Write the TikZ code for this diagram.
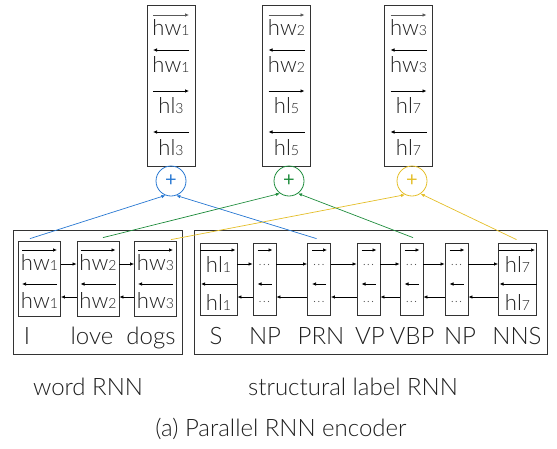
\documentclass[tikz,border=0pt]{standalone}
\usepackage{fontspec}
\setmainfont{Lato Light}
\newfontfamily\plusfont{Lato}
\usetikzlibrary{arrows.meta,calc}
\definecolor{cblue}{RGB}{40,120,210}
\definecolor{cgreen}{RGB}{30,140,60}
\definecolor{cyellow}{RGB}{228,190,40}
\definecolor{ink}{RGB}{30,30,30}
\newcommand\sbx[1]{{\fontsize{14}{14}\selectfont #1}}
\newcommand\dts{{\fontsize{13}{13}\selectfont\color{black!70}.\kern1.2pt.\kern1.2pt.}}
\begin{document}
\begin{tikzpicture}[x=1pt,y=-1pt,
  frame/.style={draw=black!80,line width=0.8pt,inner sep=0pt},
  tip/.style={-{Latex[length=4pt,width=3.5pt]},line width=0.7pt},
  lab/.style={font=\fontsize{24}{24}\selectfont,anchor=base,inner sep=0pt,text=ink},
  hv/.style={font=\fontsize{22}{22}\selectfont,anchor=base,inner sep=0pt,text=ink},
  dotn/.style={inner sep=0pt,anchor=center},
  plus/.style={circle,line width=0.8pt,minimum size=30pt,inner sep=0pt,font=\plusfont\fontsize{20}{20}\selectfont}]
\useasboundingbox (0,0) rectangle (557,448);

% top output boxes
\foreach \bx/\cx/\a/\b in {TA/171/1/3, TB/286.5/2/5, TC/408.5/3/7}{
  \node[frame,minimum width=48pt,minimum height=161pt] (\bx) at (\cx,85.5) {};
  \draw[tip,black!65] ({\cx-18},15) -- ({\cx+18},15);
  \draw[tip] ({\cx+18},50) -- ({\cx-18},50);
  \draw[tip] ({\cx-18},91) -- ({\cx+18},91);
  \draw[tip] ({\cx+18},132) -- ({\cx-18},132);
  \node[hv] (\bx r1) at (\cx,35) {hw\sbx{\a}};
  \node[hv] (\bx r2) at (\cx,72) {hw\sbx{\a}};
  \node[hv] (\bx r3) at (\cx,113) {hl\sbx{\b}};
  \node[hv] (\bx r4) at (\cx,155) {hl\sbx{\b}};
}

% plus circles
\node[plus,draw=cblue,text=cblue] (P1) at (171,181) {+};
\node[plus,draw=cgreen,text=cgreen] (P2) at (289,181) {+};
\node[plus,draw=cyellow,text=cyellow] (P3) at (412,181) {+};

% big frames
\node[frame,minimum width=169pt,minimum height=124pt] (W) at (97.5,292) {};
\node[frame,minimum width=353pt,minimum height=124pt] (S) at (370.5,292) {};

% word RNN boxes
\foreach \n/\cx/\i in {hwA/39.5/1, hwB/98/2, hwC/155.5/3}{
  \node[frame,minimum width=42pt,minimum height=75pt] (\n) at (\cx,278.5) {};
  \draw[tip] ({\cx-17.5},250) -- ({\cx+17.5},250);
  \draw[tip] ({\cx+17.5},284) -- ({\cx-17.5},284);
  \node[hv] (\n t1) at (\cx,270) {hw\sbx{\i}};
  \node[hv] (\n t2) at (\cx,308) {hw\sbx{\i}};
}
\foreach \p/\q in {hwA/hwB, hwB/hwC}{
  \draw[tip] ([yshift=14.5pt]\p.east) -- ([yshift=14.5pt]\q.west);
  \draw[tip] ([yshift=-18.5pt]\q.west) -- ([yshift=-18.5pt]\p.east);
}

% structural label boxes
\foreach \n/\cx/\w/\i in {hlA/218.5/37/1, hlB/517.5/38/7}{
  \node[frame,minimum width=\w pt,minimum height=72pt] (\n) at (\cx,279) {};
  \draw[tip] ({\cx-\w/2},250) -- ({\cx+\w/2-1.5},250);
  \draw[tip,line width=0.8pt] ({\cx+\w/2},284) -- ({\cx-\w/2+1},284);
  \node[hv] (\n t1) at (\cx,272) {hl\sbx{\i}};
  \node[hv] (\n t2) at (\cx,310) {hl\sbx{\i}};
}
\foreach \n/\cx in {dA/264.5, dB/319, dC/368.5, dD/411.5, dE/456.5}{
  \node[frame,minimum width=23pt,minimum height=72pt] (\n) at (\cx,279) {};
  \draw[tip] ({\cx-7},250) -- ({\cx+8},250);
  \draw[tip] ({\cx+7},284) -- ({\cx-7},284);
  \node[dotn] (\n t1) at (\cx,265) {\dts};
  \node[dotn] (\n t2) at (\cx,302) {\dts};
}
\foreach \p/\q in {hlA/dA, dA/dB, dB/dC, dC/dD, dD/dE, dE/hlB}{
  \draw[tip] ([yshift=15pt]\p.east) -- ([yshift=15pt]\q.west);
  \draw[tip] ([yshift=-18pt]\q.west) -- ([yshift=-18pt]\p.east);
}

% connectors to plus circles
\draw[tip,cblue] ([xshift=-9.5pt,yshift=2pt]hwA.north) -- (P1.249);
\draw[tip,cblue] ([xshift=-2.5pt,yshift=4pt]dB.north) -- (P1.290);
\draw[tip,cgreen] ([xshift=5pt,yshift=3pt]hwB.north) -- (P2.234);
\draw[tip,cgreen] ([xshift=1.5pt,yshift=5pt]dD.north) -- (P2.306);
\draw[tip,cyellow] ([xshift=15.5pt,yshift=1pt]hwC.north) -- (P3.243);
\draw[tip,cyellow] ([xshift=-1pt,yshift=3pt]hlB.north) -- (P3.304);

% token labels
\node[lab] (l1) at (27,344) {I};
\node[lab] (l2) at (92,344) {love};
\node[lab] (l3) at (151,344) {dogs};
\node[lab] (s1) at (216,344) {S};
\node[lab] (s2) at (265,344) {NP};
\node[lab] (s3) at (321,344) {PRN};
\node[lab] (s4) at (370,344) {VP};
\node[lab] (s5) at (412,344) {VBP};
\node[lab] (s6) at (460,344) {NP};
\node[lab] (s7) at (517,344) {NNS};

% captions
\node[lab] (cw) at (88,395) {word RNN};
\node[lab] (cs) at (353,395) {structural label RNN};
\node[lab] (cap) at (281,436) {(a) Parallel RNN encoder};
\end{tikzpicture}
\end{document}
